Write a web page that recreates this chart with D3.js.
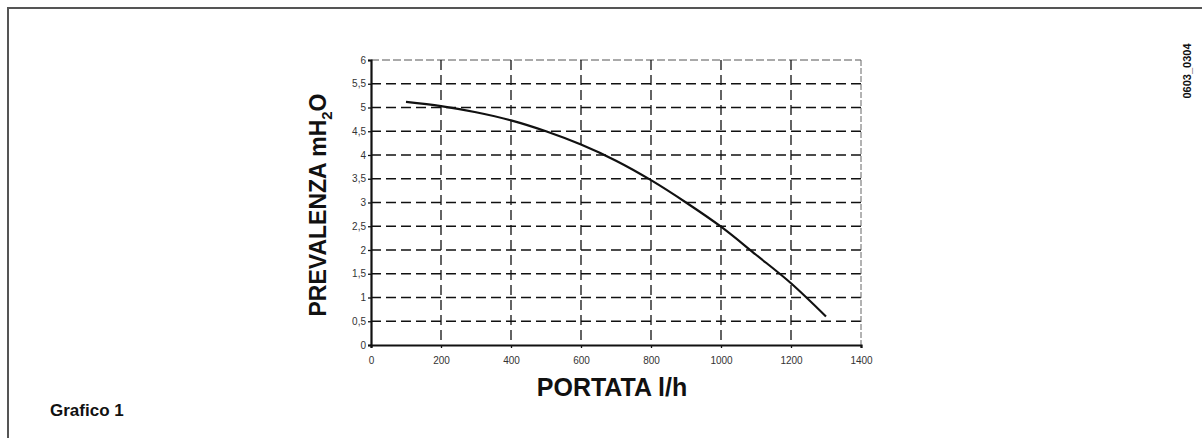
<!DOCTYPE html>
<html>
<head>
<meta charset="utf-8">
<script src="https://cdn.jsdelivr.net/npm/d3@7"></script>
<style>
  html, body { margin: 0; padding: 0; background: #fff; }
  svg { display: block; font-family: "Liberation Sans", Arial, Helvetica, sans-serif; }
</style>
</head>
<body>
<svg id="chart" width="1202" height="438"></svg>
<script>
// Pump characteristic: flow rate (l/h) vs head (m H2O)
const flowRates = [100, 200, 300, 400, 500, 600, 700, 800, 900, 1000, 1100, 1200, 1300];
const headValues = [5.12, 5.03, 4.9, 4.73, 4.5, 4.22, 3.88, 3.47, 3.0, 2.49, 1.9, 1.3, 0.6];
const xTicks = [0, 200, 400, 600, 800, 1000, 1200, 1400];
const yTicks = [0, 0.5, 1, 1.5, 2, 2.5, 3, 3.5, 4, 4.5, 5, 5.5, 6];

const svg = d3.select("#chart");

// page frame (top and left rules)
svg.append("path")
  .attr("d", "M8,438 L8,8 L1202,8")
  .attr("fill", "none")
  .attr("stroke", "#555")
  .attr("stroke-width", 2);

const x = d3.scaleLinear().domain([0, 1400]).range([371, 861]);
const y = d3.scaleLinear().domain([0, 6]).range([345, 60]);

const fmt = v => String(v).replace(".", ",");

// horizontal dashed grid
svg.append("g").selectAll("line")
  .data(yTicks.filter(v => v > 0 && v < 6))
  .join("line")
  .attr("x1", x(0)).attr("x2", x(1400))
  .attr("y1", d => y(d)).attr("y2", d => y(d))
  .attr("stroke", "#111").attr("stroke-width", 1.3)
  .attr("stroke-dasharray", "10,5");

// top border (lighter dash)
svg.append("line")
  .attr("x1", x(0)).attr("x2", x(1400))
  .attr("y1", y(6)).attr("y2", y(6))
  .attr("stroke", "#555").attr("stroke-width", 1)
  .attr("stroke-dasharray", "8,3");

// vertical dashed grid
svg.append("g").selectAll("line")
  .data(xTicks.filter(v => v > 0 && v < 1400))
  .join("line")
  .attr("x1", d => x(d)).attr("x2", d => x(d))
  .attr("y1", y(6)).attr("y2", y(0))
  .attr("stroke", "#111").attr("stroke-width", 1.3)
  .attr("stroke-dasharray", "10,5");

// right border
svg.append("line")
  .attr("x1", x(1400)).attr("x2", x(1400))
  .attr("y1", y(6)).attr("y2", y(0))
  .attr("stroke", "#666").attr("stroke-width", 1)
  .attr("stroke-dasharray", "6,2");

// axes
const yAxis = d3.axisLeft(y).tickValues(yTicks).tickSize(3).tickFormat(fmt);
const gy = svg.append("g").attr("transform", `translate(${x(0)},0)`).call(yAxis);
gy.select(".domain").attr("stroke", "#111").attr("stroke-width", 2.2);
gy.selectAll(".tick line").attr("stroke", "#111").attr("stroke-width", 1.3);
gy.selectAll(".tick text").attr("font-size", 10).attr("fill", "#333")
  .attr("x", -5).attr("font-family", "Liberation Sans, Arial, sans-serif");

const xAxis = d3.axisBottom(x).tickValues(xTicks).tickSize(3).tickFormat(d => d);
const gx = svg.append("g").attr("transform", `translate(0,${y(0)})`).call(xAxis);
gx.select(".domain").attr("stroke", "#111").attr("stroke-width", 2.2);
gx.selectAll(".tick line").attr("stroke", "#111").attr("stroke-width", 1.3);
gx.selectAll(".tick text").attr("font-size", 10).attr("fill", "#333")
  .attr("y", 12).attr("font-family", "Liberation Sans, Arial, sans-serif");

// pump curve
const line = d3.line()
  .x((d, i) => x(flowRates[i]))
  .y(d => y(d))
  .curve(d3.curveMonotoneX);
svg.append("path")
  .datum(headValues)
  .attr("d", line)
  .attr("fill", "none")
  .attr("stroke", "#111")
  .attr("stroke-width", 2.2);

// axis titles
svg.append("text")
  .attr("x", 612).attr("y", 396)
  .attr("text-anchor", "middle")
  .attr("font-size", 25).attr("font-weight", "bold").attr("fill", "#111")
  .text("PORTATA l/h");

const yt = svg.append("text")
  .attr("transform", "translate(326,205) rotate(-90)")
  .attr("text-anchor", "middle")
  .attr("font-size", 23).attr("font-weight", "bold").attr("fill", "#111");
yt.append("tspan").text("PREVALENZA mH");
yt.append("tspan").attr("font-size", 15).attr("dy", 6).text("2");
yt.append("tspan").attr("dy", -6).text("O");

// figure caption and code
svg.append("text")
  .attr("x", 50).attr("y", 416)
  .attr("font-size", 17).attr("font-weight", "bold").attr("fill", "#111")
  .text("Grafico 1");

svg.append("text")
  .attr("transform", "translate(1191,71) rotate(-90)")
  .attr("text-anchor", "middle")
  .attr("font-size", 11).attr("font-weight", "bold").attr("fill", "#111")
  .text("0603_0304");
</script>
</body>
</html>
